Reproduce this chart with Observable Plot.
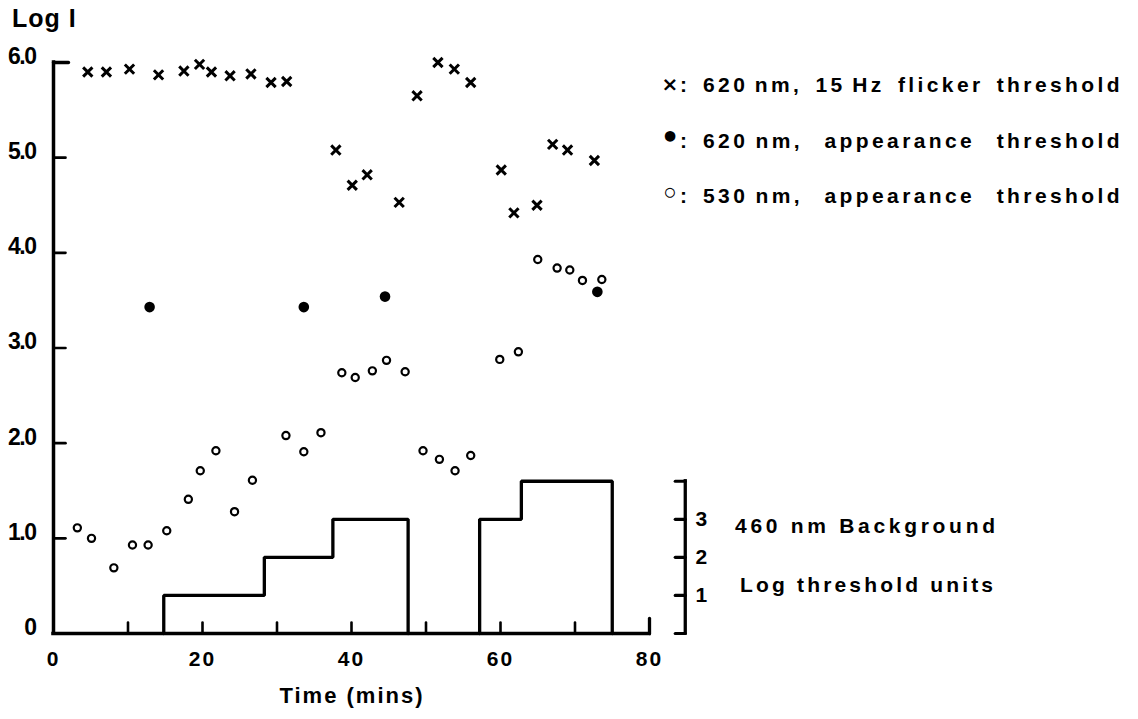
<!DOCTYPE html>
<html><head><meta charset="utf-8">
<script src="https://cdn.jsdelivr.net/npm/d3@7"></script>
<script src="https://cdn.jsdelivr.net/npm/@observablehq/plot@0.6"></script>
<style>
html,body{margin:0;padding:0;background:#fff;}
#chart{position:relative;width:1138px;height:719px;}
</style></head><body><div id="chart"></div>
<script>
// ---- data ----
const flickerTime = [4.6, 7.1, 10.2, 14.1, 17.5, 19.6, 21.2, 23.7, 26.5, 29.2, 31.3, 37.9, 40.1, 42.1, 46.4, 48.8, 51.6, 53.8, 56.0, 60.1, 61.8, 64.9, 67.0, 69.0, 72.6];
const flickerLogI = [5.90, 5.90, 5.93, 5.87, 5.91, 5.98, 5.90, 5.86, 5.88, 5.79, 5.80, 5.08, 4.71, 4.82, 4.53, 5.65, 6.00, 5.93, 5.79, 4.87, 4.42, 4.50, 5.14, 5.08, 4.97];
const red620Time = [12.9, 33.6, 44.5, 73.0];
const red620LogI = [3.43, 3.43, 3.54, 3.59];
const green530Time = [3.2, 5.1, 8.1, 10.6, 12.7, 15.2, 18.1, 19.7, 21.8, 24.3, 26.7, 31.2, 33.6, 35.9, 38.7, 40.5, 42.8, 44.7, 47.2, 49.6, 51.8, 53.9, 56.0, 59.9, 62.4, 65.0, 67.6, 69.3, 71.0, 73.6];
const green530LogI = [1.11, 1.00, 0.69, 0.93, 0.93, 1.08, 1.41, 1.71, 1.92, 1.28, 1.61, 2.08, 1.91, 2.11, 2.74, 2.69, 2.76, 2.87, 2.75, 1.92, 1.83, 1.71, 1.87, 2.88, 2.96, 3.93, 3.84, 3.82, 3.71, 3.72];
// 460 nm background, in log threshold units
const bgTime  = [14.8, 14.8, 28.3, 37.5, 47.6, 57.2, 57.2, 62.8, 75.0];
const bgLevel = [0, 1, 2, 3, 0, 0, 3, 4, 0];
const bgBlock = [1, 1, 1, 1, 1, 2, 2, 2, 2];
// ticks & labels
const xTickLabels = [0, 20, 40, 60, 80];
const xMinorTicks = [10, 20, 30, 40, 50, 60, 70];
const yTicks = [0, 1, 2, 3, 4, 5, 6];
const bgTicks = [0, 1, 2, 3, 4];
const bgTickLabels = [1, 2, 3];
const legendSymbols = ["×", "•", "◦"];
const legendLabels = ["620 nm,  15 Hz  flicker  threshold", "620 nm,   appearance   threshold", "530 nm,   appearance   threshold"];
const yTitle = "Log I";
const xTitle = "Time (mins)";
const bgTitle = ["460 nm Background", "Log threshold units"];

// ---- layout constants ----
const BG_SCALE = 0.4;   // Log I per background log unit (as drawn)
const BG_AXIS_X = 84.8; // position of the background axis, in minutes
const FONT = "'Liberation Sans', Arial, Helvetica, sans-serif";

const flicker = flickerTime.map((t, i) => ({t, v: flickerLogI[i]}));
const red = red620Time.map((t, i) => ({t, v: red620LogI[i]}));
const green = green530Time.map((t, i) => ({t, v: green530LogI[i]}));
const bg = bgTime.map((t, i) => ({t, v: bgLevel[i] * BG_SCALE, block: bgBlock[i]}));

const tick = {draw(context, l) { context.moveTo(0, 0); context.lineTo(0, -l); }};

const svg = Plot.plot({
  width: 1138, height: 719,
  marginLeft: 53, marginRight: 489, marginTop: 62, marginBottom: 86,
  x: {domain: [0, 80]},
  y: {domain: [0, 6]},
  style: {fontFamily: FONT, fontSize: "20px", color: "black", background: "white"},
  marks: [
    Plot.line(bg, {x: "t", y: "v", z: "block", curve: "step-after", stroke: "black", strokeWidth: 3.3, strokeLinejoin: "miter"}),
    Plot.ruleY([0], {x1: 0, x2: d3.max(xTickLabels), stroke: "black", strokeWidth: 3.5, strokeLinecap: "square"}),
    Plot.ruleX([0], {y1: 0, y2: d3.max(yTicks), stroke: "black", strokeWidth: 3.5, strokeLinecap: "square"}),
    Plot.vector(xMinorTicks, {x: d => d, y: 0, length: 11, rotate: 0, anchor: "start", shape: tick, strokeWidth: 2.6}),
    Plot.vector([d3.max(xTickLabels)], {x: d => d, y: 0, length: 15, rotate: 0, anchor: "start", shape: tick, strokeWidth: 3.3}),
    Plot.vector(yTicks.filter(d => d > 0 && d < d3.max(yTicks)), {x: 0, y: d => d, length: 12, rotate: 90, anchor: "start", shape: tick, strokeWidth: 2.6}),
    Plot.vector([d3.max(yTicks)], {x: 0, y: d => d, length: 15, rotate: 90, anchor: "start", shape: tick, strokeWidth: 3.3}),
    Plot.ruleX([BG_AXIS_X], {y1: 0, y2: d3.max(bgTicks) * BG_SCALE, stroke: "black", strokeWidth: 3.3, strokeLinecap: "square"}),
    Plot.vector(bgTicks, {x: BG_AXIS_X, y: d => d * BG_SCALE, length: 10, rotate: -90, anchor: "start", shape: tick, strokeWidth: 3.2}),
    Plot.text(bgTickLabels, {x: BG_AXIS_X, y: d => d * BG_SCALE, text: d => String(d), dx: 16, fontSize: 21, fontWeight: "bold", textAnchor: "middle"}),
    Plot.axisX({ticks: xTickLabels, tickSize: 0, tickPadding: 18, label: null, tickFormat: d => String(d), fontSize: 21, fontWeight: "bold"}),
    Plot.axisY({ticks: yTicks, tickSize: 0, tickPadding: 18, label: null, dy: -6, tickFormat: d => d === 0 ? "0" : d.toFixed(1), fontSize: 23, fontWeight: "bold"}),
    Plot.dot(green, {x: "t", y: "v", r: 3.6, stroke: "black", fill: "white", strokeWidth: 2.2}),
    Plot.dot(red, {x: "t", y: "v", r: 5.3, fill: "black", stroke: "none"}),
    Plot.dot(flicker, {x: "t", y: "v", r: 4.3, symbol: "times", stroke: "black", strokeWidth: 3})
  ]
});
document.getElementById("chart").appendChild(svg);

const s = d3.select(svg);
s.selectAll('g[aria-label="y-axis tick label"] text').style("letter-spacing", "-1.5px");
s.selectAll('g[aria-label="x-axis tick label"] text').style("letter-spacing", "2px");

const g = s.append("g").attr("fill", "black").attr("text-anchor", "start").style("font-family", FONT).style("font-weight", "bold");
g.append("text").attr("x", 12).attr("y", 27).style("font-size", "25px").style("letter-spacing", "1px").text(yTitle);
g.append("text").attr("x", 352).attr("y", 703).attr("text-anchor", "middle").style("font-size", "22px").style("letter-spacing", "2px").text(xTitle);

function fit(sel, width) {
  const node = sel.node();
  const w = node.getComputedTextLength();
  const spaces = (node.textContent.match(/ /g) || []).length;
  if (spaces) sel.style("word-spacing", ((width - w) / spaces) + "px");
}
const legendBase = [92, 147.5, 203];
const symSize = ["20px", "30px", "28px"];
legendLabels.forEach((lab, i) => {
  g.append("text").attr("x", 670).attr("y", legendBase[i] - (i === 0 ? 1 : 0)).attr("text-anchor", "middle").style("font-size", symSize[i]).style("font-family", "'DejaVu Sans', sans-serif").text(legendSymbols[i]);
  g.append("text").attr("x", 680).attr("y", legendBase[i]).style("font-size", "21px").text(":");
  const t = g.append("text").attr("x", 703).attr("y", legendBase[i]).style("font-size", "21px").style("letter-spacing", "3.4px").style("white-space", "pre").text(lab);
  fit(t, 420);
});
g.append("text").attr("x", 735).attr("y", 533).style("font-size", "21px").attr("textLength", 260).attr("lengthAdjust", "spacing").text(bgTitle[0]);
g.append("text").attr("x", 740).attr("y", 592).style("font-size", "21px").attr("textLength", 253).attr("lengthAdjust", "spacing").text(bgTitle[1]);
</script></body></html>
